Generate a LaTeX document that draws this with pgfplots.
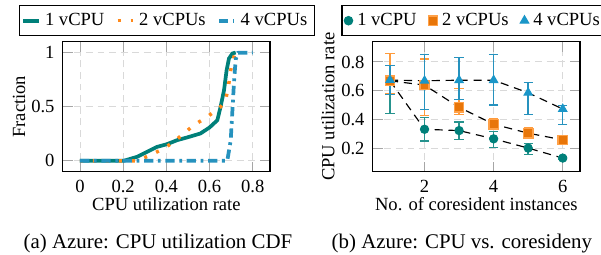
\documentclass[border=0pt]{standalone}
\usepackage{fontspec}
\setmainfont{Liberation Serif}
\usepackage{pgfplots}
\pgfplotsset{compat=1.18}
\definecolor{cteal}{RGB}{0,128,122}
\definecolor{corange}{RGB}{255,137,26}
\definecolor{cblue}{RGB}{38,146,190}
\definecolor{csqfill}{RGB}{232,118,10}
\definecolor{ctri}{RGB}{26,150,200}
\begin{document}
\begin{tikzpicture}
\path[use as bounding box] (0,0) rectangle (259.05pt,-109.91pt);
\pgfplotsset{
  myaxis/.style={
    scale only axis, width=89.35pt, height=56.03pt,
    anchor=north west,
    grid=major,
    major grid style={dash pattern=on 3pt off 2pt, gray!30, line width=0.4pt},
    major tick style={gray!70, line width=0.4pt},
    tick align=inside,
    axis line style={black, line width=0.5pt},
    /pgf/number format/assume math mode=true,
    tick label style={font=\fontsize{8}{9}\selectfont},
    label style={font=\fontsize{8}{9}\selectfont},
    xlabel style={at={(axis description cs:0.5,-0.298)}, anchor=base},
    legend style={font=\fontsize{8}{9}\selectfont, anchor=center, legend columns=3,
      draw=black, line width=0.5pt, inner sep=1pt,
      /tikz/every even column/.append style={column sep=3pt}},
    legend cell align=left,
  }
}
\begin{axis}[myaxis, at={(27.03pt,-17.97pt)},
  xmin=-0.08, xmax=0.88, ymin=-0.1, ymax=1.1,
  xtick={0,0.2,0.4,0.6,0.8}, ytick={0,0.5,1},
  xlabel={CPU utilization rate}, ylabel={Fraction},
  ylabel style={at={(axis description cs:-0.211,0.5)}, anchor=center},
  legend style={at={(0.502,1.1615)}},
  legend image code/.code={\draw[#1] (0pt,0pt) -- (6.5pt,0pt);}]
\addplot[cteal, line width=1.6pt] coordinates {
(0,0) (0.2015,0) (0.264,0.037) (0.31,0.083) (0.357,0.129) (0.403,0.154) (0.45,0.191)
(0.496,0.216) (0.558,0.253) (0.6,0.308) (0.636,0.375) (0.651,0.498) (0.667,0.652)
(0.679,0.837) (0.69,0.945) (0.706,0.991) (0.721,1.0)};
\addlegendentry{1 vCPU}
\addplot[corange, line width=1.5pt, dash pattern=on 1.3pt off 4.3pt] coordinates {
(0,0) (0.264,0) (0.326,0.053) (0.388,0.114) (0.434,0.175) (0.481,0.253) (0.527,0.329)
(0.589,0.406) (0.651,0.498) (0.674,0.56) (0.687,0.683) (0.698,0.837) (0.713,0.96) (0.721,1.0) (0.73,1.0)};
\addlegendentry{2 vCPUs}
\addplot[cblue, line width=1.6pt, dash pattern=on 4pt off 2pt on 1.2pt off 2pt] coordinates {
(0,0) (0.682,0) (0.698,0.19) (0.706,0.47) (0.713,0.72) (0.721,0.936) (0.732,0.997) (0.8,1.0)};
\addlegendentry{4 vCPUs}
\end{axis}

\begin{axis}[myaxis, at={(160.65pt,-17.97pt)},
  xmin=0.5, xmax=6.5, ymin=0.042, ymax=0.94,
  xtick={2,4,6}, ytick={0.2,0.4,0.6,0.8},
  xlabel={No. of coresident instances}, ylabel={CPU utilization rate},
  ylabel style={at={(axis description cs:-0.2156,0.5)}, anchor=center},
  legend style={at={(0.4906,1.1615)}}]
\addplot[black, line width=0.5pt, dash pattern=on 3.5pt off 2.5pt, forget plot] coordinates {
(1,0.67) (2,0.335) (3,0.326) (4,0.269) (5,0.205) (6,0.136)};
\addplot[black, line width=0.5pt, dash pattern=on 3.5pt off 2.5pt, forget plot] coordinates {
(1,0.67) (2,0.64) (3,0.487) (4,0.37) (5,0.308) (6,0.262)};
\addplot[black, line width=0.5pt, dash pattern=on 3.5pt off 2.5pt, forget plot] coordinates {
(1,0.675) (2,0.67) (3,0.674) (4,0.674) (5,0.587) (6,0.475)};
\addplot[only marks, mark=*, mark size=1.8pt, mark options={fill=cteal, draw=cteal},
  error bars/.cd, y dir=both, y explicit,
  error bar style={color=cteal!85, line width=0.6pt},
  error mark options={rotate=90, mark size=2pt, color=cteal!85, line width=0.6pt}]
coordinates {
(1,0.67) += (0,0.19) -= (0,0.225)
(2,0.335) += (0,0.08) -= (0,0.08)
(3,0.326) += (0,0.06) -= (0,0.06)
(4,0.269) += (0,0.05) -= (0,0.06)
(5,0.205) += (0,0.03) -= (0,0.045)
(6,0.136) += (0,0.01) -= (0,0.01)};
\addlegendentry{1 vCPU}
\addplot[only marks, mark=square*, mark size=2pt, mark options={fill=csqfill, draw=corange!80, line width=0.6pt},
  error bars/.cd, y dir=both, y explicit,
  error bar style={color=corange!85, line width=0.6pt},
  error mark options={rotate=90, mark size=2pt, color=corange!85, line width=0.6pt}]
coordinates {
(1,0.67) += (0,0.19) -= (0,0.09)
(2,0.64) += (0,0.18) -= (0,0.21)
(3,0.487) += (0,0.13) -= (0,0.05)
(4,0.37) += (0,0.04) -= (0,0.03)
(5,0.308) += (0,0.04) -= (0,0.03)
(6,0.262) += (0,0.01) -= (0,0.01)};
\addlegendentry{2 vCPUs}
\addplot[only marks, mark=triangle*, mark size=2.1pt, mark options={fill=ctri, draw=ctri},
  error bars/.cd, y dir=both, y explicit,
  error bar style={color=cblue, line width=0.6pt},
  error mark options={rotate=90, mark size=2pt, color=cblue, line width=0.6pt}]
coordinates {
(1,0.675) += (0,0.1) -= (0,0.1)
(2,0.67) += (0,0.18) -= (0,0.2)
(3,0.674) += (0,0.156) -= (0,0.133)
(4,0.674) += (0,0.176) -= (0,0.17)
(5,0.587) += (0,0.07) -= (0,0.15)
(6,0.475) += (0,0.025) -= (0,0.105)};
\addlegendentry{4 vCPUs}
\end{axis}

\node[anchor=base, font=\fontsize{9}{11}\selectfont] at (68.1pt,-106.9pt) {(a) Azure: CPU utilization CDF};
\node[anchor=base, font=\fontsize{9}{11}\selectfont] at (199.1pt,-106.9pt) {(b) Azure: CPU vs. coresideny};
\end{tikzpicture}
\end{document}
